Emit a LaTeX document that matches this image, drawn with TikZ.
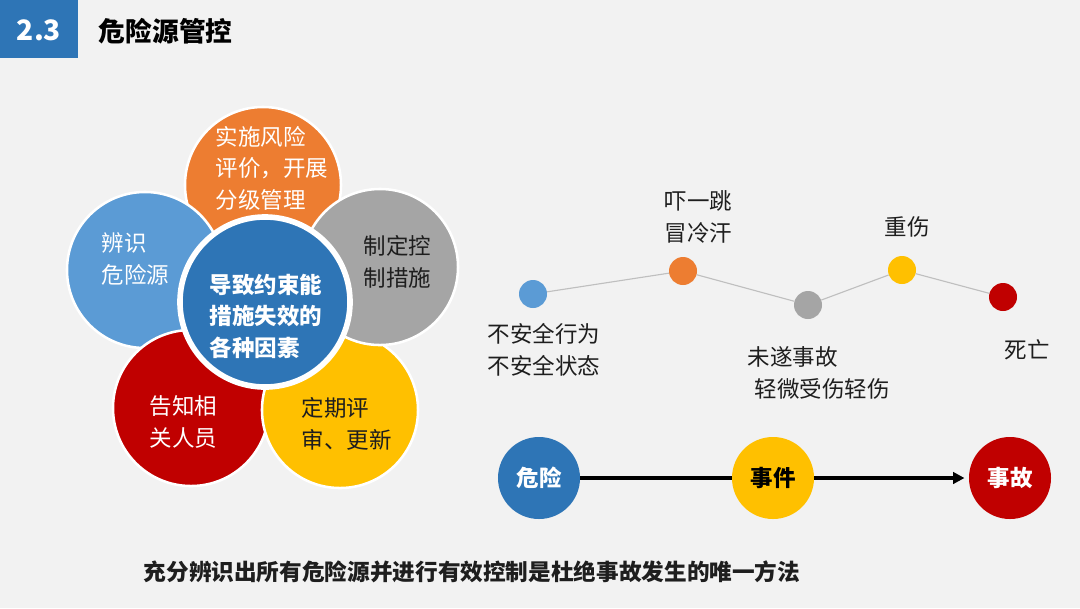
\documentclass[tikz,border=0pt]{standalone}
\usepackage{fontspec}
\setmainfont{Noto Sans CJK SC}
\usetikzlibrary{arrows.meta,positioning}
\definecolor{PageGray}{RGB}{242,242,242}
\definecolor{HeadBlue}{RGB}{46,117,182}
\definecolor{SoftBlue}{RGB}{91,155,213}
\definecolor{RiskOrange}{RGB}{237,125,49}
\definecolor{MidGray}{RGB}{165,165,165}
\definecolor{DeepRed}{RGB}{192,0,0}
\definecolor{Amber}{RGB}{255,192,0}
\definecolor{LinkGray}{RGB}{191,191,191}
\definecolor{InkDark}{RGB}{30,30,30}

\begin{document}
\begin{tikzpicture}[x=0.025cm, y=-0.025cm,
  petal/.style={circle, draw=white, line width=1.8pt, minimum size=3.9cm, inner sep=0pt},
  petaltext/.style={anchor=west, align=left, font=\fontsize{16}{22.4}\selectfont},
  dot/.style={circle, minimum size=0.7cm, inner sep=0pt},
  steptext/.style={align=left, font=\fontsize{16}{23}\selectfont, text=InkDark},
  stage/.style={circle, minimum size=2.05cm, inner sep=0pt, font=\bfseries\fontsize{16}{20}\selectfont}]

  % Page background and header bar
  \fill[PageGray] (0,0) rectangle (1080,608);
  \useasboundingbox (0,0) rectangle (1080,608);
  \fill[HeadBlue] (0,0) rectangle (78,58);
  \node[text=white, font=\bfseries\fontsize{20}{24}\selectfont] (num) at (39,30) {2.3};
  \node[anchor=west, font=\bfseries\fontsize{19}{24}\selectfont] (title) at (94,31) {危险源管控};

  % Five petals round the centre (drawn in overlap order)
  \node[petal, fill=RiskOrange] (P2) at (263,185) {};
  \node[petal, fill=SoftBlue] (P1) at (145,270) {};
  \node[petal, fill=DeepRed] (P4) at (191,408) {};
  \node[petal, fill=Amber] (P5) at (340,410) {};
  \node[petal, fill=MidGray] (P3) at (380,267) {};

  % Centre circle
  \node[circle, fill=HeadBlue, draw=white, line width=4pt, minimum size=4.25cm] (C) at (265,302) {};

  % Petal texts
  \node[petaltext, text=white] (T1) at (97,259) {辨识\\危险源};
  \node[petaltext, text=white] (T2) at (211,168) {实施风险\\评价，开展\\分级管理};
  \node[petaltext, text=InkDark] (T3) at (359,262) {制定控\\制措施};
  \node[petaltext, text=white] (T4) at (145,422) {告知相\\关人员};
  \node[petaltext, text=InkDark] (T5) at (297,424) {定期评\\审、更新};
  \node[petaltext, text=white, font=\bfseries\fontsize{16}{22.4}\selectfont] (TC) at (205,316) {导致约束能\\措施失效的\\各种因素};

  % Escalation line with dots
  \node[dot, fill=SoftBlue] (D1) at (533,294) {};
  \node[dot, fill=RiskOrange] (D2) at (683,271) {};
  \node[dot, fill=MidGray] (D3) at (808,305) {};
  \node[dot, fill=Amber] (D4) at (902,270) {};
  \node[dot, fill=DeepRed] (D5) at (1003,297) {};
  \draw[LinkGray, line width=0.8pt] (D1) -- (D2) -- (D3) -- (D4) -- (D5);

  \node[steptext, anchor=west] (L1) at (483,350) {不安全行为\\不安全状态};
  \node[steptext, anchor=west] (L2) at (660,217) {吓一跳\\冒冷汗};
  \node[steptext] (L4) at (907,227) {重伤};
  \node[steptext, anchor=west] (L3) at (743,373) {未遂事故\\\hspace*{0.3em}轻微受伤轻伤};
  \node[steptext, anchor=west] (L5) at (1000,350) {死亡};

  % Hazard -> event -> accident
  \node[stage, fill=HeadBlue, text=white] (H) at (539,478) {危险};
  \node[stage, fill=Amber, text=black] (E) at (773,478) {事件};
  \node[stage, fill=DeepRed, text=white] (A) at (1010,478) {事故};
  \draw[line width=2.6pt] (H) -- (E);
  \draw[line width=2.6pt, -{Triangle[length=8pt, width=8pt]}, shorten >=3pt] (E) -- (A);

  % Closing statement
  \node[font=\bfseries\fontsize{16.1}{20}\selectfont, text=InkDark] (S) at (472,572) {充分辨识出所有危险源并进行有效控制是杜绝事故发生的唯一方法};
\end{tikzpicture}
\end{document}
